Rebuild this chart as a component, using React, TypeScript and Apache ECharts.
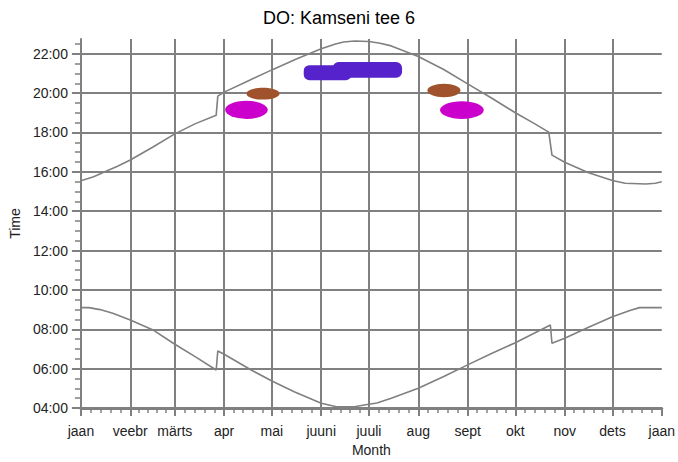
import React, { useEffect, useRef } from "react";
import * as echarts from "echarts";

// ---- data ----
const monthLabels = ["jaan", "veebr", "märts", "apr", "mai", "juuni", "juuli", "aug", "sept", "okt", "nov", "dets", "jaan"];
const monthStartDays = [0, 31, 59, 90, 120, 151, 181, 212, 243, 273, 304, 334, 365];
const hourTickValues = [4, 6, 8, 10, 12, 14, 16, 18, 20, 22];

// [day of year, hour of day]
const sunsetCurve: [number, number][] = [
  [0, 15.55], [8, 15.75], [15, 16.0], [23, 16.28], [31, 16.6], [45, 17.25], [59, 17.93], [72, 18.45], [85, 18.88],
  [86, 19.85], [90, 20.05], [105, 20.62], [120, 21.18], [135, 21.72], [151, 22.25], [160, 22.5], [165, 22.6],
  [172, 22.65], [181, 22.62], [188, 22.53], [195, 22.4], [212, 21.86], [228, 21.2], [243, 20.47], [258, 19.75],
  [273, 19.0], [285, 18.45], [294, 18.02], [296, 16.85], [304, 16.49], [319, 15.95], [334, 15.56],
  [342, 15.42], [355, 15.38], [361, 15.42], [365, 15.5],
];
const sunriseCurve: [number, number][] = [
  [0, 9.1], [5, 9.1], [12, 9.0], [20, 8.81], [31, 8.47], [45, 7.98], [59, 7.24], [72, 6.6], [85, 5.93],
  [86, 6.9], [90, 6.73], [107, 5.93], [120, 5.37], [134, 4.83], [151, 4.24], [160, 4.08],
  [172, 4.06], [178, 4.15], [186, 4.25], [195, 4.49], [212, 5.0], [228, 5.6], [243, 6.19],
  [258, 6.77], [273, 7.32], [295, 8.22], [296, 7.29], [304, 7.54], [319, 8.1], [334, 8.64],
  [345, 8.95], [351, 9.1], [365, 9.1],
];

// shadow periods: centre day, centre hour, half-span in days, half-span in hours
const blobNames = ["A1", "B1", "C1", "C2", "B2", "A2"];
const blobDay = [104, 114.4, 155, 180, 228.1, 239.4];
const blobHour = [19.15, 19.97, 21.04, 21.18, 20.13, 19.14];
const blobHalfDays = [13.4, 10.4, 15, 21.8, 10.4, 13.75];
const blobHalfHours = [0.46, 0.3, 0.38, 0.4, 0.34, 0.45];
const blobKind = ["ellipse", "ellipse", "rect", "rect", "ellipse", "ellipse"];

// ---- styles ----
const blobColors = ["#cc00cc", "#a0522d", "#5522cc", "#5522cc", "#a0522d", "#cc00cc"];
const GRAY = "#808080";
const FONT = "'Liberation Sans', Arial, sans-serif";

const minorDayTicks: number[] = [];
for (let i = 0; i < monthStartDays.length - 1; i++) {
  const a = monthStartDays[i];
  const b = monthStartDays[i + 1];
  for (let k = 1; k < 5; k++) minorDayTicks.push(a + ((b - a) * k) / 5);
}
const minorHourTicks: number[] = [];
for (let h = 4.5; h < 22.8; h += 0.5) if (h % 2 !== 0) minorHourTicks.push(h);

const pad = (n: number) => (n < 10 ? "0" + n : "" + n);

export default function App() {
  const ref = useRef<HTMLDivElement>(null);
  useEffect(() => {
    if (!ref.current) return;
    const chart = echarts.init(ref.current, undefined, { renderer: "svg" });
    const blobData = blobNames.map((n, i) => ({
      name: n,
      value: [blobDay[i], blobHour[i], blobHalfDays[i], blobHalfHours[i], i],
    }));
    chart.setOption({
      animation: false,
      backgroundColor: "#ffffff",
      textStyle: { fontFamily: FONT },
      title: {
        text: "DO: Kamseni tee 6",
        left: "center",
        top: 4,
        textStyle: { fontFamily: FONT, fontSize: 18, fontWeight: "normal", color: "#000" },
      },
      grid: { left: 80, right: 14, top: 39, bottom: 54 },
      xAxis: [
        {
          type: "value",
          min: 0,
          max: 365,
          position: "bottom",
          name: "Month",
          nameLocation: "middle",
          nameGap: 35,
          nameTextStyle: { fontFamily: FONT, fontSize: 14, color: "#222" },
          axisLine: { onZero: false, lineStyle: { color: GRAY, width: 3 } },
          axisTick: { customValues: monthStartDays, length: 8, lineStyle: { color: GRAY, width: 2 } },
          axisLabel: {
            customValues: monthStartDays,
            margin: 16,
            fontSize: 14,
            fontFamily: FONT,
            color: "#222",
            formatter: (v: number) => {
              const i = monthStartDays.indexOf(Math.round(v));
              return i >= 0 ? monthLabels[i] : "";
            },
          },
          splitLine: { show: false },
        },
        {
          type: "value",
          min: 0,
          max: 365,
          position: "bottom",
          axisLine: { show: false, onZero: false },
          axisTick: { customValues: monthStartDays.slice(0, 12), length: 0 },
          axisLabel: { show: false },
          splitLine: { show: true, lineStyle: { color: GRAY, width: 2 } },
        },
        {
          type: "value",
          min: 0,
          max: 365,
          position: "bottom",
          axisLine: { show: false, onZero: false },
          axisTick: { customValues: minorDayTicks, length: 5, lineStyle: { color: GRAY, width: 1.5 } },
          axisLabel: { show: false },
          splitLine: { show: false },
        },
      ],
      yAxis: [
        {
          type: "value",
          min: 4,
          max: 22.75,
          position: "left",
          name: "Time",
          nameLocation: "middle",
          nameGap: 58,
          nameTextStyle: { fontFamily: FONT, fontSize: 14, color: "#222" },
          axisLine: { onZero: false, lineStyle: { color: GRAY, width: 2 } },
          axisTick: { customValues: hourTickValues, length: 9, lineStyle: { color: GRAY, width: 2 } },
          axisLabel: {
            customValues: hourTickValues,
            margin: 13,
            fontSize: 14,
            fontFamily: FONT,
            color: "#222",
            formatter: (v: number) => pad(Math.round(v)) + ":00",
          },
          splitLine: { show: true, lineStyle: { color: GRAY, width: 2 } },
        },
        {
          type: "value",
          min: 4,
          max: 22.75,
          position: "left",
          axisLine: { show: false, onZero: false },
          axisTick: { customValues: minorHourTicks, length: 6, lineStyle: { color: GRAY, width: 1.5 } },
          axisLabel: { show: false },
          splitLine: { show: false },
        },
      ],
      series: [
        {
          type: "line",
          data: sunsetCurve,
          showSymbol: false,
          lineStyle: { color: GRAY, width: 1.6 },
          z: 3,
        },
        {
          type: "line",
          data: sunriseCurve,
          showSymbol: false,
          lineStyle: { color: GRAY, width: 1.6 },
          z: 3,
        },
        {
          type: "custom",
          data: blobData,
          encode: { x: 0, y: 1 },
          z: 4,
          renderItem: (params: any, api: any) => {
            const c = api.coord([api.value(0), api.value(1)]);
            const s = api.size([api.value(2) * 2, api.value(3) * 2]);
            const idx = api.value(4);
            const color = blobColors[idx];
            if (blobKind[idx] === "rect") {
              return {
                type: "rect",
                shape: { x: c[0] - s[0] / 2, y: c[1] - s[1] / 2, width: s[0], height: s[1], r: s[1] * 0.38 },
                style: { fill: color },
              };
            }
            return {
              type: "ellipse",
              shape: { cx: c[0], cy: c[1], rx: s[0] / 2, ry: s[1] / 2 },
              style: { fill: color },
            };
          },
        },
      ],
    });
    return () => chart.dispose();
  }, []);
  return (
    <div
      ref={ref}
      style={{ position: "absolute", left: 0, top: 0, width: 678, height: 462, background: "#fff" }}
    />
  );
}
